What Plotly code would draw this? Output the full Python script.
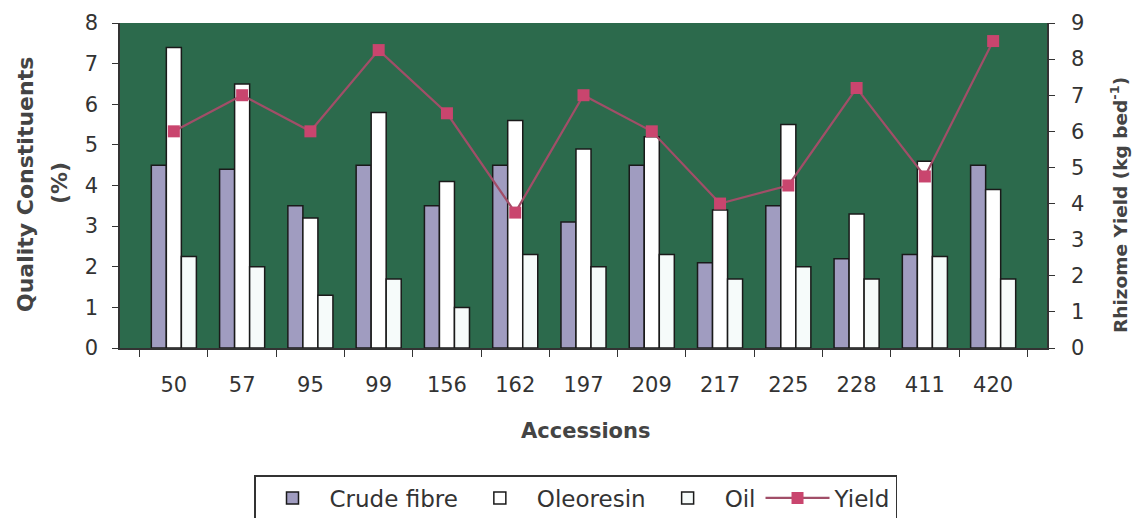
import plotly.graph_objects as go

accessions = ["50", "57", "95", "99", "156", "162", "197", "209", "217", "225", "228", "411", "420"]
crude_fibre = [4.5, 4.4, 3.5, 4.5, 3.5, 4.5, 3.1, 4.5, 2.1, 3.5, 2.2, 2.3, 4.5]
oleoresin = [7.4, 6.5, 3.2, 5.8, 4.1, 5.6, 4.9, 5.2, 3.4, 5.5, 3.3, 4.6, 3.9]
oil = [2.25, 2.0, 1.3, 1.7, 1.0, 2.3, 2.0, 2.3, 1.7, 2.0, 1.7, 2.25, 1.7]
yield_vals = [6.0, 7.0, 6.0, 8.25, 6.5, 3.75, 7.0, 6.0, 4.0, 4.5, 7.2, 4.75, 8.5]

font_fam = "DejaVu Sans, Liberation Sans, Arial, sans-serif"
outline = dict(color="#1a1a1a", width=1.5)

# plot area in pixels (for placing titles)
L, R, T, B = 120, 1047, 23, 348
W, H = R - L, B - T


def px_x(px):
    return (px - L) / W


def px_y(py):
    return (B - py) / H


fig = go.Figure()
fig.add_trace(go.Bar(x=accessions, y=crude_fibre, name="Crude fibre",
                     marker=dict(color="#a09cc0", line=outline)))
fig.add_trace(go.Bar(x=accessions, y=oleoresin, name="Oleoresin",
                     marker=dict(color="#ffffff", line=outline)))
fig.add_trace(go.Bar(x=accessions, y=oil, name="Oil",
                     marker=dict(color="#f6fbfa", line=outline)))
fig.add_trace(go.Scatter(x=accessions, y=yield_vals, name="Yield", yaxis="y2",
                         mode="lines+markers",
                         line=dict(color="#a14e68", width=2.2),
                         marker=dict(symbol="square", size=12, color="#c9456e")))

title_font = dict(family=font_fam, size=22, color="#444444")
annotations = [
    dict(text="<b>Quality Constituents</b>", x=px_x(25), y=px_y(185), xref="paper", yref="paper",
         textangle=-90, showarrow=False, xanchor="center", yanchor="middle", font=title_font),
    dict(text="<b>(%)</b>", x=px_x(59), y=px_y(183), xref="paper", yref="paper",
         textangle=-90, showarrow=False, xanchor="center", yanchor="middle", font=title_font),
    dict(text="<b>Accessions</b>", x=px_x(585), y=px_y(431), xref="paper", yref="paper",
         showarrow=False, xanchor="center", yanchor="middle", font=dict(family=font_fam, size=21, color="#444444")),
    dict(text="<b>Rhizome Yield (kg bed<sup>-1</sup>)</b>", x=px_x(1119), y=px_y(205), xref="paper", yref="paper",
         textangle=-90, showarrow=False, xanchor="center", yanchor="middle",
         font=dict(family=font_fam, size=18.5, color="#444444")),
]

fig.update_layout(
    width=1133, height=518,
    margin=dict(l=L, r=1133 - R, t=T, b=518 - B, autoexpand=False),
    paper_bgcolor="white",
    plot_bgcolor="#2c6a4c",
    barmode="group",
    bargap=0.34,
    bargroupgap=0,
    font=dict(family=font_fam, color="#333333", size=18),
    annotations=annotations,
    xaxis=dict(
        type="category",
        tickson="boundaries",
        ticks="outside", ticklen=7, tickcolor="#333",
        ticklabelstandoff=17,
        showline=True, linecolor="#333", linewidth=1.5,
        showgrid=False,
        tickfont=dict(size=21),
    ),
    yaxis=dict(
        range=[0, 8], dtick=1,
        ticks="outside", ticklen=6, tickcolor="#333",
        ticklabelstandoff=10,
        showline=True, linecolor="#333", linewidth=1.5,
        showgrid=False, zeroline=False,
        tickfont=dict(size=21),
    ),
    yaxis2=dict(
        range=[0, 9], dtick=1,
        overlaying="y", side="right",
        ticks="outside", ticklen=6, tickcolor="#333",
        ticklabelstandoff=12,
        showline=True, linecolor="#333", linewidth=1.5,
        showgrid=False, zeroline=False,
        tickfont=dict(size=21),
    ),
    legend=dict(
        orientation="h",
        x=254 / 1133, xref="container", xanchor="left",
        y=(518 - 475) / 518, yref="container", yanchor="top",
        bordercolor="#333", borderwidth=1.5,
        bgcolor="white",
        font=dict(size=23, color="#333"),
        itemwidth=64,
    ),
)

fig.write_html("out.html")
